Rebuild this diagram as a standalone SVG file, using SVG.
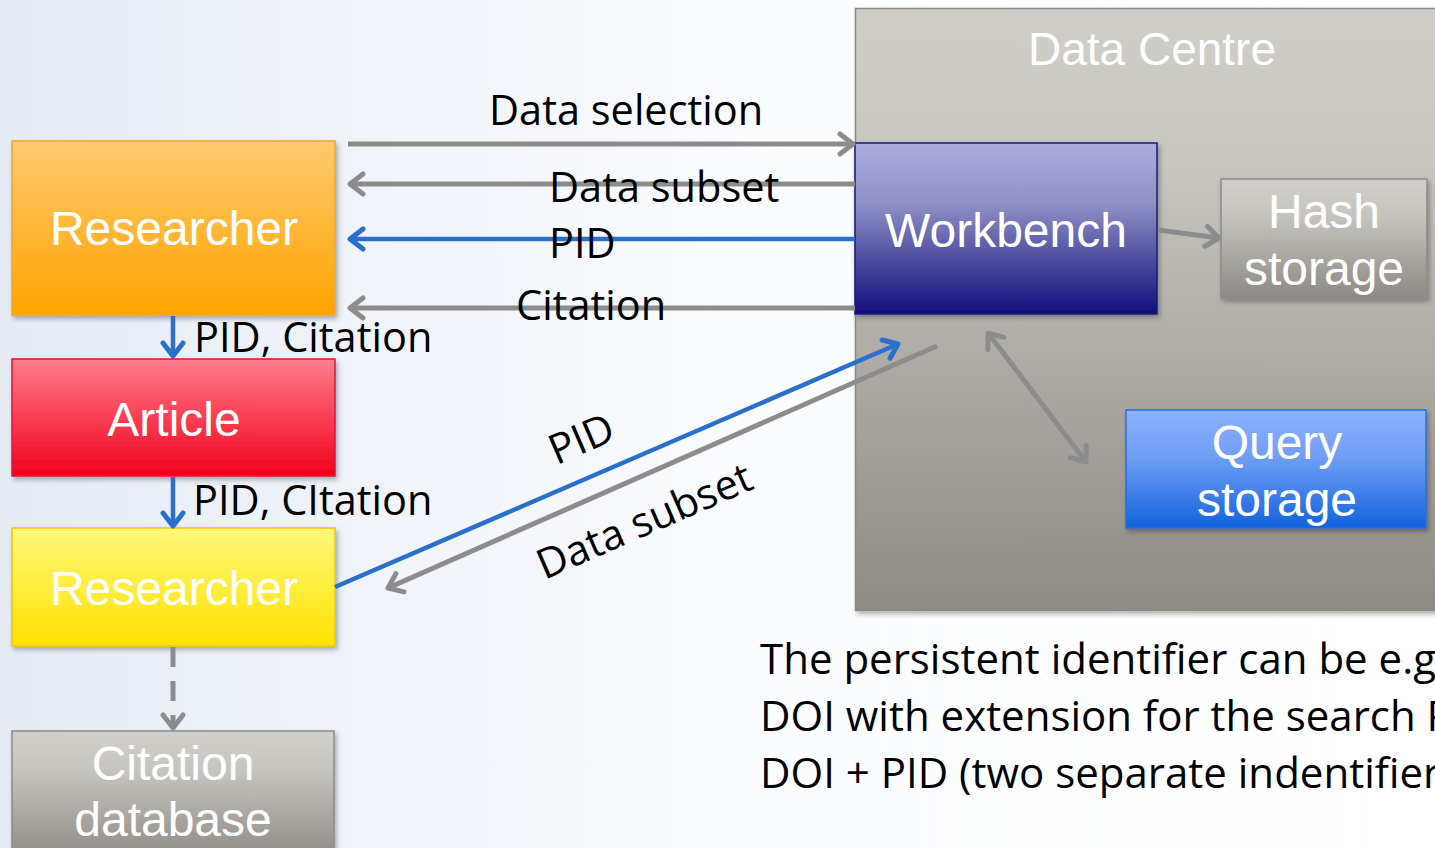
<svg xmlns="http://www.w3.org/2000/svg" width="1435" height="848" viewBox="0 0 1435 848">
<defs>
<linearGradient id="bg" x1="0" y1="0" x2="1" y2="0"><stop offset="0" stop-color="#e6ebf4"/><stop offset="0.55" stop-color="#fbfcfe"/><stop offset="1" stop-color="#ffffff"/></linearGradient>
<linearGradient id="gOrange" x1="0" y1="0" x2="0" y2="1"><stop offset="0" stop-color="#ffca6e"/><stop offset="1" stop-color="#ffa300"/></linearGradient>
<linearGradient id="gRed" x1="0" y1="0" x2="0" y2="1"><stop offset="0" stop-color="#ff7d8c"/><stop offset="1" stop-color="#f2001c"/></linearGradient>
<linearGradient id="gYellow" x1="0" y1="0" x2="0" y2="1"><stop offset="0" stop-color="#fff87c"/><stop offset="1" stop-color="#ffe100"/></linearGradient>
<linearGradient id="gGray" x1="0" y1="0" x2="0" y2="1"><stop offset="0" stop-color="#d1cfca"/><stop offset="0.3" stop-color="#c6c4bf"/><stop offset="1" stop-color="#8d8a85"/></linearGradient>
<linearGradient id="gCentre" x1="0" y1="0" x2="0" y2="1"><stop offset="0" stop-color="#d0cec9"/><stop offset="0.25" stop-color="#c8c6c1"/><stop offset="1" stop-color="#8e8a85"/></linearGradient>
<linearGradient id="gWork" x1="0" y1="0" x2="0" y2="1"><stop offset="0" stop-color="#acacdf"/><stop offset="0.35" stop-color="#9090c6"/><stop offset="1" stop-color="#100d7c"/></linearGradient>
<linearGradient id="gQuery" x1="0" y1="0" x2="0" y2="1"><stop offset="0" stop-color="#8cb2ff"/><stop offset="0.4" stop-color="#6f9ef4"/><stop offset="1" stop-color="#1262df"/></linearGradient>
<filter id="sh" x="-10%" y="-10%" width="130%" height="130%"><feDropShadow dx="2" dy="3" stdDeviation="2.5" flood-color="#000" flood-opacity="0.3"/></filter>
<marker id="mGray" viewBox="0 0 26 26" refX="22" refY="13" markerWidth="26" markerHeight="26" markerUnits="userSpaceOnUse" orient="auto-start-reverse"><path d="M9,3 L22,13 L9,23" fill="none" stroke="#8c8c8c" stroke-width="5" stroke-linecap="round" stroke-linejoin="round"/></marker>
<marker id="mBlue" viewBox="0 0 26 26" refX="22" refY="13" markerWidth="26" markerHeight="26" markerUnits="userSpaceOnUse" orient="auto-start-reverse"><path d="M9,3 L22,13 L9,23" fill="none" stroke="#2a6fcc" stroke-width="5" stroke-linecap="round" stroke-linejoin="round"/></marker>
</defs>
<style>
.node{filter:url(#sh)}
.wt{font-family:"Liberation Sans",Arial,sans-serif;fill:#ffffff;text-anchor:middle;font-size:48px}
.bt{font-family:"Open Sans","DejaVu Sans",sans-serif;fill:#000000;font-size:41.5px}
.lt{font-family:"Open Sans","DejaVu Sans",sans-serif;fill:#000000;font-size:42px}
.g{stroke:#8c8c8c;stroke-width:5;fill:none}
.b{stroke:#2a6fcc;stroke-width:4.5;fill:none}
</style>
<rect x="0" y="0" width="1435" height="848" fill="url(#bg)"/>

<g id="data-centre">
<rect x="855.5" y="8.5" width="590" height="602" fill="url(#gCentre)" stroke="#8a8a86" stroke-width="1.5" class="node"/>
<text class="wt" x="1152" y="65" style="font-size:46px">Data Centre</text>
</g>

<g id="researcher1">
<rect x="12" y="141" width="323" height="174" fill="url(#gOrange)" stroke="#f5a623" stroke-width="1.5" class="node"/>
<text class="wt" x="174" y="245">Researcher</text>
</g>
<g id="article">
<rect x="12" y="359" width="323" height="117" fill="url(#gRed)" stroke="#e8103a" stroke-width="1.5" class="node"/>
<text class="wt" x="174" y="436">Article</text>
</g>
<g id="researcher2">
<rect x="12" y="528" width="323" height="118" fill="url(#gYellow)" stroke="#f5c400" stroke-width="1.5" class="node"/>
<text class="wt" x="174" y="605">Researcher</text>
</g>
<g id="citation-db">
<rect x="12" y="731" width="322" height="130" fill="url(#gGray)" stroke="#8a8a86" stroke-width="1.5" class="node"/>
<text class="wt" x="173" y="780">Citation</text>
<text class="wt" x="173" y="836">database</text>
</g>
<g id="workbench">
<rect x="855" y="143" width="302" height="171" fill="url(#gWork)" stroke="#1a1880" stroke-width="1.5" class="node"/>
<text class="wt" x="1006" y="247">Workbench</text>
</g>
<g id="hash-storage">
<rect x="1221" y="179" width="206" height="119" fill="url(#gGray)" stroke="#8a8a86" stroke-width="1.5" class="node"/>
<text class="wt" x="1324" y="228">Hash</text>
<text class="wt" x="1324" y="285">storage</text>
</g>
<g id="query-storage">
<rect x="1126" y="410" width="300" height="118" fill="url(#gQuery)" stroke="#2a6fd8" stroke-width="1.5" class="node"/>
<text class="wt" x="1277" y="459">Query</text>
<text class="wt" x="1277" y="516">storage</text>
</g>

<g id="connectors">
<line class="g" x1="348" y1="144" x2="853" y2="144" marker-end="url(#mGray)"/>
<line class="g" x1="855" y1="184" x2="350" y2="184" marker-end="url(#mGray)"/>
<line class="b" x1="855" y1="239" x2="350" y2="239" marker-end="url(#mBlue)"/>
<line class="g" x1="855" y1="308" x2="350" y2="308" marker-end="url(#mGray)"/>
<line class="b" x1="173" y1="316" x2="173" y2="356" marker-end="url(#mBlue)"/>
<line class="b" x1="173" y1="477" x2="173" y2="526" marker-end="url(#mBlue)"/>
<line class="g" x1="173" y1="647" x2="173" y2="728" stroke-dasharray="20,14" marker-end="url(#mGray)"/>
<line class="b" x1="335" y1="587" x2="898" y2="344" marker-end="url(#mBlue)"/>
<line class="g" x1="937" y1="346" x2="388" y2="588" marker-end="url(#mGray)"/>
<line class="g" x1="1158" y1="230" x2="1219" y2="238" marker-end="url(#mGray)"/>
<line class="g" x1="988" y1="333" x2="1086" y2="462" marker-start="url(#mGray)" marker-end="url(#mGray)"/>
</g>

<g id="labels">
<text class="bt" x="489" y="125">Data selection</text>
<text class="bt" x="549" y="202">Data subset</text>
<text class="bt" x="549" y="258">PID</text>
<text class="bt" x="516" y="320">Citation</text>
<text class="bt" x="194" y="352">PID, Citation</text>
<text class="bt" x="193" y="515">PID, CItation</text>
<text class="bt" transform="translate(587,452) rotate(-23.5)" text-anchor="middle">PID</text>
<text class="bt" transform="translate(650,534) rotate(-23.5)" text-anchor="middle">Data subset</text>
<text class="lt" x="760" y="674">The persistent identifier can be e.g</text>
<text class="lt" x="760" y="731">DOI with extension for the search P</text>
<text class="lt" x="760" y="788">DOI + PID (two separate indentifier</text>
</g>
</svg>
